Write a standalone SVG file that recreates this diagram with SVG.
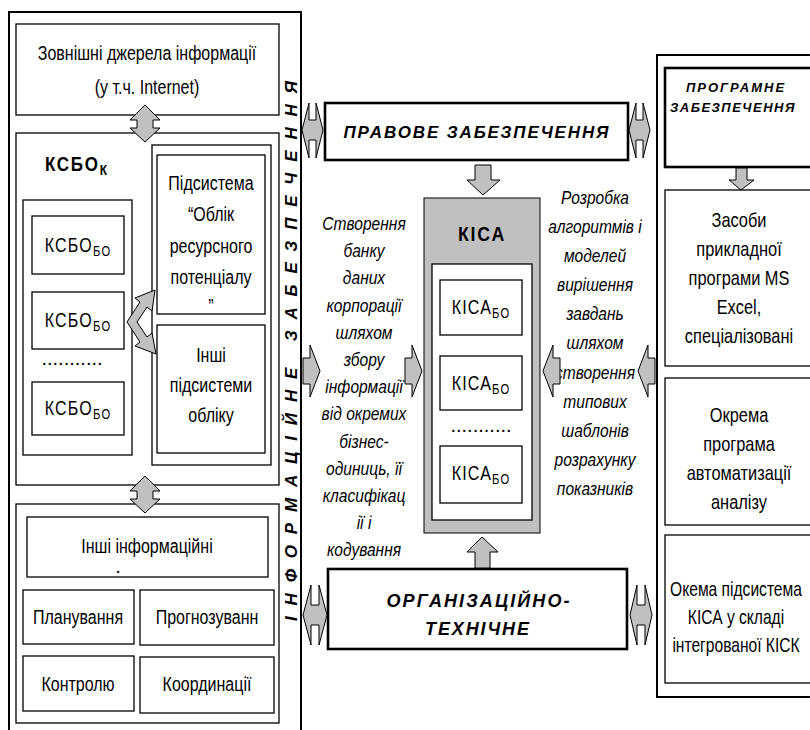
<svg xmlns="http://www.w3.org/2000/svg" width="810" height="730" viewBox="0 0 810 730">
<style>
.t{font-family:'Liberation Sans Narrow','Arial Narrow','Liberation Sans',sans-serif;font-size:20px;text-anchor:middle;fill:#000}
.n{font-family:'Liberation Sans Narrow','Arial Narrow','Liberation Sans',sans-serif;font-size:19px;font-style:italic;text-anchor:middle;fill:#000}
.bi{font-family:'Liberation Sans','Arial',sans-serif;font-weight:bold;font-style:italic;text-anchor:middle;fill:#000}
.box{fill:#fff;stroke:#000;stroke-width:1.3}
.fr{fill:none;stroke:#000;stroke-width:2}
.thick{fill:#fff;stroke:#000;stroke-width:2.6}
.ar{fill:#c0c0c0;stroke:#000;stroke-width:1}
</style>
<rect width="810" height="730" fill="#fff"/>

<g id="left-frame">
<rect class="fr" x="9" y="12" width="292" height="730"/>
<text class="bi" font-size="17" transform="translate(297,351) rotate(-90)" textLength="540" lengthAdjust="spacing">ІНФОРМАЦІЙНЕ ЗАБЕЗПЕЧЕННЯ</text>
</g>

<g id="ext-sources">
<rect class="box" x="16" y="24" width="263" height="91"/>
<g transform="translate(147,0) scale(0.8,1)">
<text class="t" x="0" y="60">Зовнішні джерела інформації</text>
<text class="t" x="0" y="94">(у т.ч. Internet)</text>
</g>
</g>

<g id="ksbo-k">
<rect class="box" x="16" y="133" width="263" height="352"/>
<text class="t" transform="translate(45,171) scale(0.85,1)" x="0" y="0" style="text-anchor:start;font-weight:bold;font-size:20px" letter-spacing="2">КСБО<tspan font-size="14" dy="4">К</tspan></text>
<rect class="box" x="23" y="200" width="109" height="255"/>
<g id="ksbo-bo-1"><rect class="box" x="32" y="216" width="92" height="58"/><text class="t" transform="translate(78,252) scale(0.8,1)" x="0" y="0" letter-spacing="1.5">КСБО<tspan font-size="14" dy="4">БО</tspan></text></g>
<g id="ksbo-bo-2"><rect class="box" x="32" y="292" width="92" height="57"/><text class="t" transform="translate(78,327) scale(0.8,1)" x="0" y="0" letter-spacing="1.5">КСБО<tspan font-size="14" dy="4">БО</tspan></text></g>
<text class="t" x="72" y="365" font-size="17">...........</text>
<g id="ksbo-bo-3"><rect class="box" x="32" y="382" width="92" height="53"/><text class="t" transform="translate(78,415) scale(0.8,1)" x="0" y="0" letter-spacing="1.5">КСБО<tspan font-size="14" dy="4">БО</tspan></text></g>
<rect class="box" x="152" y="145" width="119" height="320"/>
<g id="sub-resource"><rect class="box" x="157" y="155" width="108" height="159"/>
<g transform="translate(211,0) scale(0.8,1)">
<text class="t" x="0" y="190">Підсистема</text>
<text class="t" x="0" y="221">“Облік</text>
<text class="t" x="0" y="253">ресурсного</text>
<text class="t" x="0" y="284">потенціалу</text>
<text class="t" x="0" y="313">”</text>
</g></g>
<g id="sub-other"><rect class="box" x="157" y="325" width="108" height="128"/>
<g transform="translate(211,0) scale(0.8,1)">
<text class="t" x="0" y="362">Інші</text>
<text class="t" x="0" y="392">підсистеми</text>
<text class="t" x="0" y="422">обліку</text>
</g></g>
</g>

<g id="other-info">
<rect class="box" x="16" y="504" width="263" height="219"/>
<rect class="box" x="27" y="517" width="241" height="60"/>
<text class="t" transform="translate(147,553) scale(0.8,1)" x="0" y="0">Інші інформаційні</text>
<text class="t" x="118" y="573" font-size="7">.</text>
<g id="plan"><rect class="box" x="23" y="590" width="111" height="54"/><text class="t" transform="translate(78,624) scale(0.8,1)" x="0" y="0">Планування</text></g>
<g id="forecast"><rect class="box" x="140" y="590" width="134" height="55"/><text class="t" transform="translate(207,624) scale(0.8,1)" x="0" y="0">Прогнозуванн</text></g>
<g id="control"><rect class="box" x="23" y="656" width="111" height="55"/><text class="t" transform="translate(78,691) scale(0.8,1)" x="0" y="0">Контролю</text></g>
<g id="coord"><rect class="box" x="140" y="657" width="134" height="56"/><text class="t" transform="translate(207,691) scale(0.8,1)" x="0" y="0">Координації</text></g>
</g>

<g id="legal">
<rect class="thick" x="325" y="103" width="303" height="57"/>
<text class="bi" x="476" y="138" font-size="17" textLength="265" lengthAdjust="spacing">ПРАВОВЕ ЗАБЕЗПЕЧЕННЯ</text>
</g>

<g id="kisa">
<rect x="424" y="198" width="116" height="335" fill="#c0c0c0" stroke="#000" stroke-width="1"/>
<text class="t" transform="translate(482,241) scale(0.85,1)" x="0" y="0" style="font-weight:bold;font-size:21px" letter-spacing="2">КІСА</text>
<rect class="box" x="432" y="264" width="100" height="256"/>
<g id="kisa-bo-1"><rect class="box" x="440" y="280" width="82" height="55"/><text class="t" transform="translate(481,314) scale(0.8,1)" x="0" y="0" letter-spacing="1.5">КІСА<tspan font-size="14" dy="4">БО</tspan></text></g>
<g id="kisa-bo-2"><rect class="box" x="440" y="356" width="82" height="54"/><text class="t" transform="translate(481,390) scale(0.8,1)" x="0" y="0" letter-spacing="1.5">КІСА<tspan font-size="14" dy="4">БО</tspan></text></g>
<text class="t" x="481" y="432" font-size="17">...........</text>
<g id="kisa-bo-3"><rect class="box" x="440" y="446" width="82" height="57"/><text class="t" transform="translate(481,480) scale(0.8,1)" x="0" y="0" letter-spacing="1.5">КІСА<tspan font-size="14" dy="4">БО</tspan></text></g>
</g>

<g id="org">
<rect class="thick" x="328" y="569" width="299" height="80"/>
<text class="bi" x="478" y="607" font-size="18" textLength="183" lengthAdjust="spacing">ОРГАНІЗАЦІЙНО-</text>
<text class="bi" x="477" y="635" font-size="18" textLength="104" lengthAdjust="spacing">ТЕХНІЧНЕ</text>
</g>

<g id="left-note" transform="translate(364,0) scale(0.82,1)">
<text class="n" x="0" y="230">Створення</text>
<text class="n" x="0" y="257">банку</text>
<text class="n" x="0" y="284">даних</text>
<text class="n" x="0" y="312">корпорації</text>
<text class="n" x="0" y="339">шляхом</text>
<text class="n" x="0" y="366">збору</text>
<text class="n" x="0" y="393">інформації</text>
<text class="n" x="0" y="420">від окремих</text>
<text class="n" x="0" y="448">бізнес-</text>
<text class="n" x="0" y="475">одиниць, її</text>
<text class="n" x="0" y="502">класифікац</text>
<text class="n" x="0" y="529">ії і</text>
<text class="n" x="0" y="556">кодування</text>
</g>

<g id="right-note" transform="translate(595,0) scale(0.82,1)">
<text class="n" x="0" y="204">Розробка</text>
<text class="n" x="0" y="233">алгоритмів і</text>
<text class="n" x="0" y="262">моделей</text>
<text class="n" x="0" y="291">вирішення</text>
<text class="n" x="0" y="320">завдань</text>
<text class="n" x="0" y="349">шляхом</text>
<text class="n" x="0" y="379">створення</text>
<text class="n" x="0" y="408">типових</text>
<text class="n" x="0" y="437">шаблонів</text>
<text class="n" x="0" y="466">розрахунку</text>
<text class="n" x="0" y="495">показників</text>
</g>

<g id="right-frame">
<rect class="fr" x="657" y="55" width="170" height="642" stroke-width="2.5"/>
</g>
<g id="software">
<rect class="thick" x="665" y="68" width="160" height="99"/>
<text class="bi" x="736" y="92" font-size="13" letter-spacing="2">ПРОГРАМНЕ</text>
<text class="bi" x="733" y="112" font-size="13" letter-spacing="1.5">ЗАБЕЗПЕЧЕННЯ</text>
</g>
<g id="excel">
<rect class="box" x="665" y="190" width="160" height="176"/>
<g transform="translate(739,0) scale(0.82,1)">
<text class="t" x="0" y="227">Засоби</text>
<text class="t" x="0" y="256">прикладної</text>
<text class="t" x="0" y="285">програми MS</text>
<text class="t" x="0" y="314">Excel,</text>
<text class="t" x="0" y="343">спеціалізовані</text>
</g></g>
<g id="separate-program">
<rect class="box" x="665" y="378" width="160" height="147"/>
<g transform="translate(739,0) scale(0.82,1)">
<text class="t" x="0" y="422">Окрема</text>
<text class="t" x="0" y="451">програма</text>
<text class="t" x="0" y="480">автоматизації</text>
<text class="t" x="0" y="509">аналізу</text>
</g></g>
<g id="kisa-subsystem">
<rect class="box" x="665" y="535" width="160" height="148"/>
<g transform="translate(736,0) scale(0.78,1)">
<text class="t" x="0" y="596">Окема підсистема</text>
<text class="t" x="0" y="624">КІСА у складі</text>
<text class="t" x="0" y="652">інтегрованої КІСК</text>
</g></g>

<g id="connectors">
<polygon class="ar" points="145,105 130,120 137,120 137,128 130,128 145,142 160,128 153,128 153,120 160,120"/>
<polygon class="ar" points="145,476 130,491 137,491 137,499 130,499 145,513 160,499 153,499 153,491 160,491"/>
<polygon class="ar" points="127,322 140,302 135,298 155,290 152,311 147,307 137,322 147,337 152,333 156,354 135,346 140,342"/>
<polygon class="ar" points="302,130 309,103 309,120 316,120 316,103 323,130 316,158 316,140 309,140 309,158"/>
<polygon class="ar" points="629,130 636,103 636,120 643,120 643,103 650,130 643,158 643,140 636,140 636,158"/>
<polygon class="ar" points="303,615 311,585 311,605 319,605 319,585 327,615 319,645 319,625 311,625 311,645"/>
<polygon class="ar" points="630,615 637,585 637,605 645,605 645,585 652,615 645,645 645,625 637,625 637,645"/>
<polygon class="ar" points="475,165 491,165 491,180 500,180 483,195 467,180 475,180"/>
<polygon class="ar" points="482,537 498,552 490,552 490,568 475,568 475,552 467,552"/>
<polygon class="ar" points="736,168 747,168 747,180 754,180 741,190 729,180 736,180"/>
<polygon class="ar" points="303,358 310,358 310,345 320,371 310,397 310,384 303,384"/>
<polygon class="ar" points="405,358 412,358 412,345 422,371 412,397 412,384 405,384"/>
<polygon class="ar" points="560,358 553,358 553,345 543,371 553,397 553,384 560,384"/>
<polygon class="ar" points="655,358 648,358 648,345 638,371 648,397 648,384 655,384"/>
</g>
</svg>
